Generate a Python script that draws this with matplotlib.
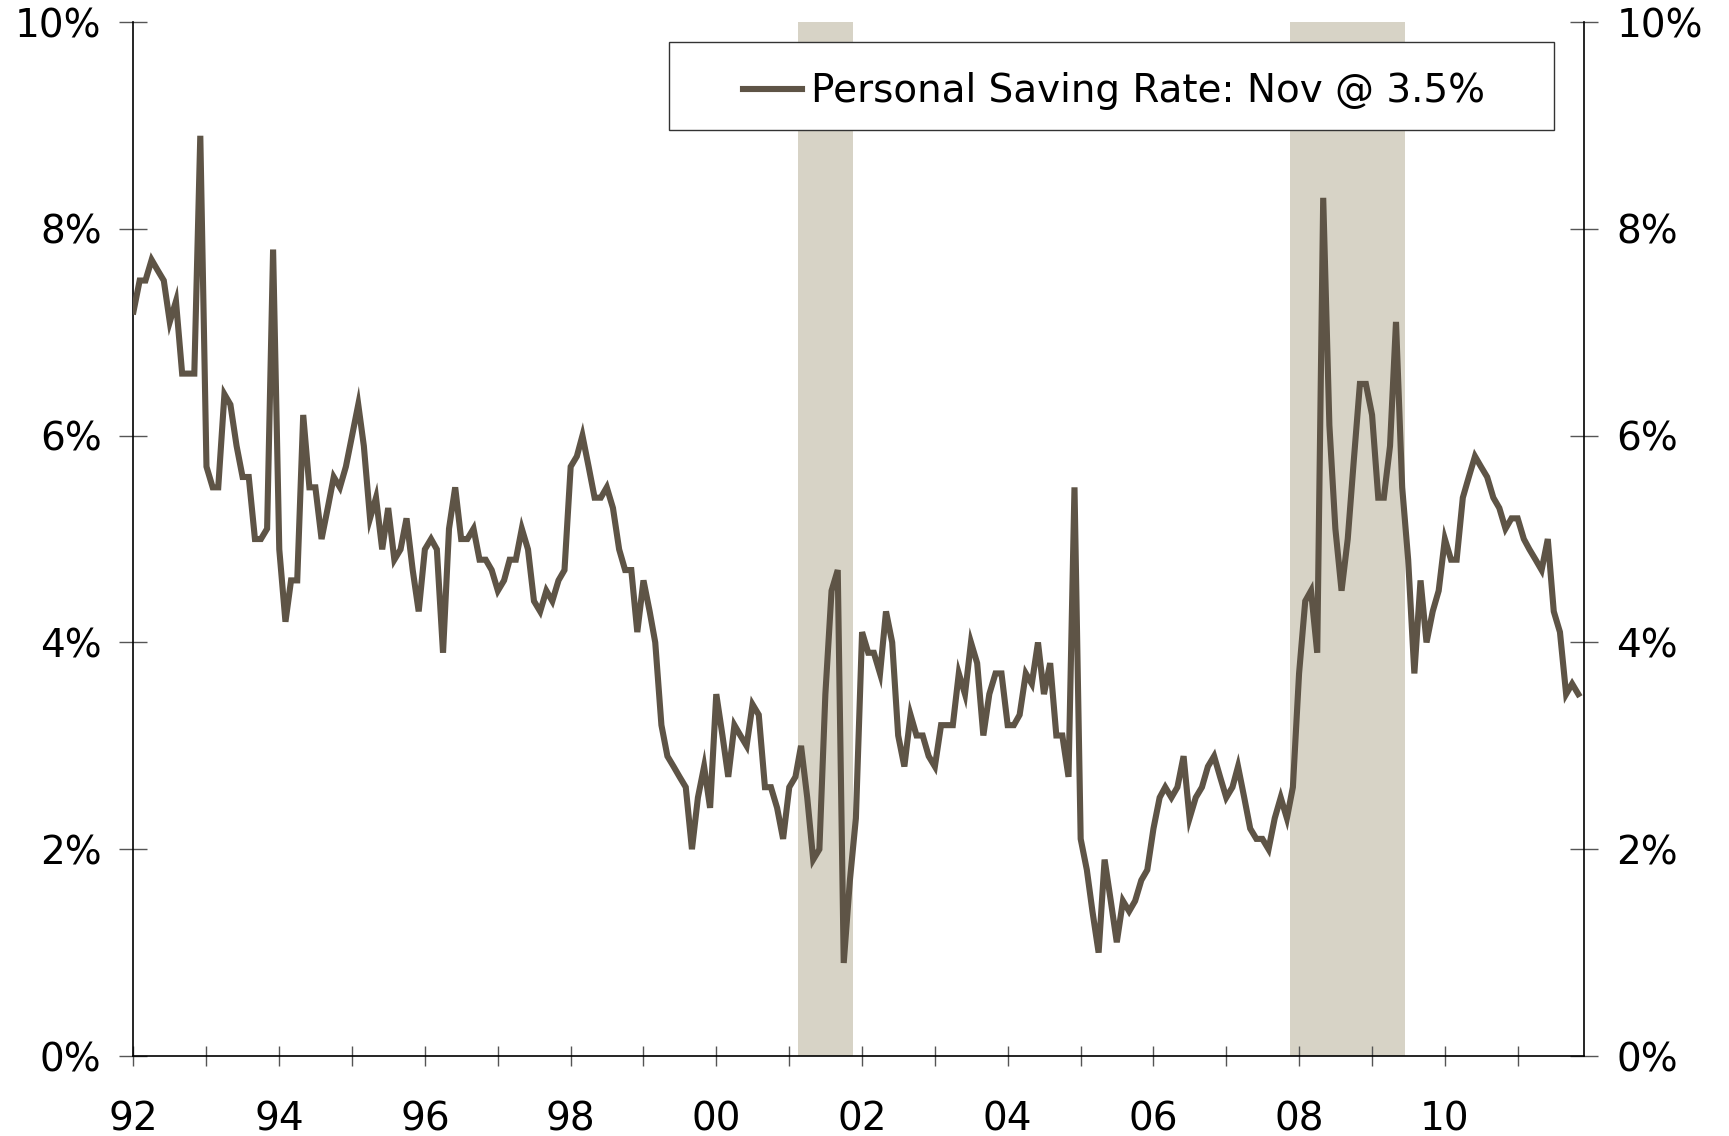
import matplotlib
matplotlib.use("Agg")
import matplotlib.pyplot as plt
from matplotlib.patches import Rectangle
import numpy as np
import pandas as pd

# Monthly personal saving rate (%), Jan 1992 - Nov 2011
saving_rate = [
    7.2, 7.5, 7.5, 7.7, 7.6, 7.5, 7.1, 7.3, 6.6, 6.6, 6.6, 8.9,   # 1992
    5.7, 5.5, 5.5, 6.4, 6.3, 5.9, 5.6, 5.6, 5.0, 5.0, 5.1, 7.8,   # 1993
    4.9, 4.2, 4.6, 4.6, 6.2, 5.5, 5.5, 5.0, 5.3, 5.6, 5.5, 5.7,   # 1994
    6.0, 6.3, 5.9, 5.2, 5.4, 4.9, 5.3, 4.8, 4.9, 5.2, 4.7, 4.3,   # 1995
    4.9, 5.0, 4.9, 3.9, 5.1, 5.5, 5.0, 5.0, 5.1, 4.8, 4.8, 4.7,   # 1996
    4.5, 4.6, 4.8, 4.8, 5.1, 4.9, 4.4, 4.3, 4.5, 4.4, 4.6, 4.7,   # 1997
    5.7, 5.8, 6.0, 5.7, 5.4, 5.4, 5.5, 5.3, 4.9, 4.7, 4.7, 4.1,   # 1998
    4.6, 4.3, 4.0, 3.2, 2.9, 2.8, 2.7, 2.6, 2.0, 2.5, 2.8, 2.4,   # 1999
    3.5, 3.1, 2.7, 3.2, 3.1, 3.0, 3.4, 3.3, 2.6, 2.6, 2.4, 2.1,   # 2000
    2.6, 2.7, 3.0, 2.5, 1.9, 2.0, 3.5, 4.5, 4.7, 0.9, 1.7, 2.3,   # 2001
    4.1, 3.9, 3.9, 3.7, 4.3, 4.0, 3.1, 2.8, 3.3, 3.1, 3.1, 2.9,   # 2002
    2.8, 3.2, 3.2, 3.2, 3.7, 3.5, 4.0, 3.8, 3.1, 3.5, 3.7, 3.7,   # 2003
    3.2, 3.2, 3.3, 3.7, 3.6, 4.0, 3.5, 3.8, 3.1, 3.1, 2.7, 5.5,   # 2004
    2.1, 1.8, 1.4, 1.0, 1.9, 1.5, 1.1, 1.5, 1.4, 1.5, 1.7, 1.8,   # 2005
    2.2, 2.5, 2.6, 2.5, 2.6, 2.9, 2.3, 2.5, 2.6, 2.8, 2.9, 2.7,   # 2006
    2.5, 2.6, 2.8, 2.5, 2.2, 2.1, 2.1, 2.0, 2.3, 2.5, 2.3, 2.6,   # 2007
    3.7, 4.4, 4.5, 3.9, 8.3, 6.1, 5.1, 4.5, 5.0, 5.75, 6.5, 6.5,  # 2008
    6.2, 5.4, 5.4, 5.9, 7.1, 5.5, 4.8, 3.7, 4.6, 4.0, 4.3, 4.5,   # 2009
    5.0, 4.8, 4.8, 5.4, 5.6, 5.8, 5.7, 5.6, 5.4, 5.3, 5.1, 5.2,   # 2010
    5.2, 5.0, 4.9, 4.8, 4.7, 5.0, 4.3, 4.1, 3.5, 3.6, 3.5,        # 2011
]
start_month = "1992-01-01"
recessions = [("2001-03-01", "2001-11-01"), ("2007-12-01", "2009-06-01")]
year_labels = ["92", "94", "96", "98", "00", "02", "04", "06", "08", "10"]
y_ticks = [0, 2, 4, 6, 8, 10]
legend_label = "Personal Saving Rate: Nov @ 3.5%"

line_color = "#5E5446"
shade_color = "#D7D3C6"

dates = pd.date_range(start_month, periods=len(saving_rate), freq="MS")

fig = plt.figure(figsize=(17.29, 11.36), dpi=100)
ax = fig.add_axes([0.0772, 0.0704, 0.9163 - 0.0772, 0.9806 - 0.0704])

half = pd.Timedelta(days=15)
for s, e in recessions:
    ax.axvspan(pd.Timestamp(s) - half, pd.Timestamp(e) + half,
               color=shade_color, lw=0, zorder=0)

ax.plot(dates, saving_rate, color=line_color, lw=4.4, solid_joinstyle="miter",
        label=legend_label, zorder=3)

ax.set_xlim(pd.Timestamp("1992-01-01"), pd.Timestamp("2011-12-01"))
ax.set_ylim(0, 10)

major = pd.date_range("1992-01-01", periods=len(year_labels), freq="24MS")
minor = pd.date_range("1993-01-01", "2011-01-01", freq="24MS")
ax.set_xticks(major)
ax.set_xticklabels(year_labels)
ax.set_xticks(minor, minor=True)

ax.set_yticks(y_ticks)
ax.set_yticklabels([f"{v}%" for v in y_ticks])

for sp in ["left", "right", "bottom"]:
    ax.spines[sp].set_color("black")
    ax.spines[sp].set_linewidth(1.2)
ax.spines["top"].set_visible(False)

ax.tick_params(axis="y", which="both", direction="inout", length=20, width=1.0,
               color="#555555", labelsize=28, pad=13, left=True, right=True,
               labelleft=True, labelright=True)
ax.tick_params(axis="x", which="both", direction="inout", length=14, width=1.0,
               color="#555555", labelsize=28, pad=25)

# legend frame drawn as its own box, legend centred in it
box_x0, box_y0, box_x1, box_y1 = 0.3694, 0.8955, 0.9788, 0.9808
ax.add_patch(Rectangle((box_x0, box_y0), box_x1 - box_x0, box_y1 - box_y0,
                       transform=ax.transAxes, facecolor="white",
                       edgecolor="#333333", lw=1.0, zorder=4))
leg = ax.legend(loc="center",
                bbox_to_anchor=((box_x0 + box_x1) / 2 + 0.002, (box_y0 + box_y1) / 2 - 0.005),
                fontsize=28, frameon=False, handlelength=1.5, handletextpad=0.25,
                borderpad=0, borderaxespad=0)
leg.set_zorder(5)

fig.savefig("out.png", dpi=100, facecolor="white")
